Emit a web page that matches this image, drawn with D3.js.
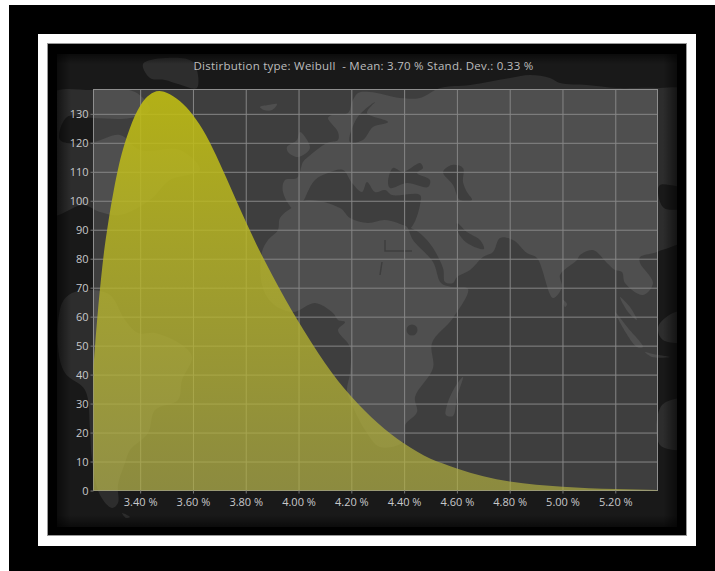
<!DOCTYPE html>
<html>
<head>
<meta charset="utf-8">
<script src="https://cdn.jsdelivr.net/npm/d3@7"></script>
<style>
  html, body { margin: 0; padding: 0; background: #fff; overflow: hidden; }
  svg { display: block; }
  text { font-family: "Open Sans", sans-serif; }
</style>
</head>
<body>
<svg id="chart" width="715" height="571"></svg>
<script>
// Weibull distribution chart on a dark world-map backdrop.

const titleText = 'Distirbution type: Weibull  - Mean: 3.70 % Stand. Dev.: 0.33 %';

const rates = [3.2232, 3.23, 3.24, 3.25, 3.26, 3.28, 3.30, 3.32, 3.34, 3.36, 3.38, 3.40, 3.42, 3.45, 3.473,
  3.50, 3.55, 3.60, 3.65, 3.70, 3.75, 3.80, 3.85, 3.90, 3.95, 4.00, 4.05, 4.10, 4.15, 4.20, 4.25, 4.30,
  4.35, 4.40, 4.45, 4.50, 4.55, 4.60, 4.70, 4.80, 4.90, 5.00, 5.10, 5.20, 5.36];
const density = [43, 51, 62, 71.5, 80, 93, 103.6, 112.5, 119.3, 124.8, 129.3, 132.8, 135.3, 137.4, 137.9,
  137.3, 134.4, 129.5, 122.5, 113.2, 103, 92.8, 83.2, 74.4, 66, 58.2, 50.9, 44, 37.8, 32.4, 27.6, 23.3,
  19.5, 16.2, 13.4, 11, 9.2, 7.6, 4.9, 3.1, 2, 1.3, 0.8, 0.5, 0.2];

const xTicks = [3.4, 3.6, 3.8, 4.0, 4.2, 4.4, 4.6, 4.8, 5.0, 5.2];
const yTicks = [0, 10, 20, 30, 40, 50, 60, 70, 80, 90, 100, 110, 120, 130];

// backdrop shapes, traced by hand in page pixels
const eurasia = [[283,192],[285,180],[297,178],[303,162],[308,157],[327,143],[338,140],[338,132],[328,118],[332,115],[348,113],[352,102],[358,93],[370,92],[400,98],[420,98],[440,88],[470,85],[510,78],[530,75],[550,78],[560,83],[587,85],[617,88],[657,88],[690,92],[690,184],[660,185],[658,192],[664,208],[690,212],[690,236],[657,252],[640,257],[640,263],[653,283],[643,295],[625,283],[622,272],[615,270],[607,263],[593,250],[580,255],[577,260],[560,275],[562,287],[553,298],[537,258],[527,253],[513,240],[500,238],[493,252],[483,257],[470,270],[457,277],[453,283],[445,282],[443,268],[427,240],[408,227],[300,215]];
const africa = [[407,227],[413,240],[433,262],[441,283],[452,287],[468,289],[453,318],[432,343],[433,368],[415,397],[417,412],[405,425],[403,442],[380,447],[365,430],[350,400],[347,390],[350,373],[350,347],[338,330],[345,322],[338,320],[333,313],[315,303],[293,312],[272,303],[262,285],[262,252],[268,240],[278,230],[280,218],[293,207],[308,200],[340,208],[350,218],[368,223],[385,220],[403,225]];
const northAmerica = [[50,95],[93,90],[135,92],[150,110],[130,118],[93,118],[67,117],[60,140],[93,142],[120,135],[140,150],[180,150],[200,170],[170,180],[150,200],[120,215],[100,212],[83,205],[50,215]];
const southAmerica = [[62,303],[72,293],[90,290],[110,295],[125,320],[138,333],[155,333],[182,345],[192,357],[182,380],[178,400],[155,410],[148,433],[130,450],[125,463],[118,485],[118,503],[112,508],[100,495],[92,460],[90,430],[85,390],[65,373],[58,347]];
const fireland = [[122,513],[130,517],[126,518]];
const greenland = [[143,64],[165,58],[193,62],[197,88],[178,84],[165,80],[150,78]];
const iceland = [[260,107],[268,105],[277,104],[272,110],[264,110]];
const britain = [[287,147],[297,140],[300,132],[310,148],[298,157],[288,152]];
const madagascar = [[463,377],[455,387],[447,405],[446,415],[453,416],[457,397]];
const sumatra = [[615,312],[628,328],[643,347],[637,347],[617,317]];
const malaya = [[620,297],[630,307],[637,320],[628,312]];
const java = [[645,352],[653,354],[670,357],[652,357]];
const borneo = [[658,327],[673,313],[690,312],[690,340],[663,340]];
const australia = [[662,405],[690,400],[690,447],[660,445]];
const sriLanka = [[563,300],[567,304],[565,307]];
const lands = [northAmerica, southAmerica, fireland, greenland, iceland, britain, madagascar, sumatra, malaya, java, borneo, australia, sriLanka];

const mediterranean = [[305,198],[315,180],[328,173],[343,170],[352,183],[362,192],[367,182],[375,192],[385,190],[392,195],[420,195],[420,205],[413,225],[405,232],[300,212]];
const blackSea = [[388,182],[393,168],[403,172],[420,163],[423,168],[417,173],[430,180],[428,187],[407,183],[390,188]];
const caspian = [[443,172],[452,165],[463,168],[463,182],[467,192],[472,200],[460,200],[453,185]];
const baltic = [[350,142],[357,118],[375,102],[367,113],[388,122],[373,127],[363,140]];
const persianGulf = [[457,223],[467,232],[480,240],[484,249],[467,243],[458,232]];
const seas = [mediterranean, blackSea, caspian, baltic, persianGulf];

const oceanColor = '#191919';
const landColor = '#2d2d2d';

const svg = d3.select('#chart');
const defs = svg.append('defs');

function addGradient(id, x2, y2, stops) {
  const g = defs.append('linearGradient').attr('id', id)
    .attr('x1', 0).attr('y1', 0).attr('x2', x2).attr('y2', y2);
  stops.forEach(s => g.append('stop').attr('offset', s[0]).attr('stop-color', s[1]).attr('stop-opacity', s[2]));
}

addGradient('fade-left', 1, 0, [[0, '#000', 0.55], [1, '#000', 0]]);
addGradient('fade-right', 1, 0, [[0, '#000', 0], [1, '#000', 0.55]]);
addGradient('fade-top', 0, 1, [[0, '#000', 0.55], [1, '#000', 0]]);
addGradient('fade-bottom', 0, 1, [[0, '#000', 0], [1, '#000', 0.55]]);
addGradient('yellow-fill', 0, 1, [[0, 'rgb(192,189,18)', 0.9], [1, 'rgb(177,175,64)', 0.68]]);

defs.append('clipPath').attr('id', 'panel-clip').append('rect')
  .attr('x', 57).attr('y', 54).attr('width', 620).attr('height', 473);

// picture frame
svg.append('rect').attr('x', 9).attr('y', 5).attr('width', 706).attr('height', 566).attr('fill', '#000');
svg.append('rect').attr('x', 38).attr('y', 34).attr('width', 658).attr('height', 512).attr('fill', '#fff');
svg.append('rect').attr('x', 47.5).attr('y', 43.5).attr('width', 639).attr('height', 492)
  .attr('fill', '#000').attr('stroke', '#999');

// map backdrop
const map = svg.append('g').attr('clip-path', 'url(#panel-clip)');
const shape = d3.line().curve(d3.curveCatmullRomClosed.alpha(0.5));

map.append('rect').attr('x', 57).attr('y', 54).attr('width', 620).attr('height', 473).attr('fill', oceanColor);
map.append('path').attr('d', shape(eurasia)).attr('fill', landColor);
seas.forEach(s => map.append('path').attr('d', shape(s)).attr('fill', oceanColor));
map.append('path').attr('d', shape(africa)).attr('fill', landColor);
lands.forEach(s => map.append('path').attr('d', shape(s)).attr('fill', landColor));
map.append('circle').attr('cx', 412).attr('cy', 330).attr('r', 5.5).attr('fill', oceanColor);
map.append('path').attr('d', 'M385,240V251H412M382,262L380,275').attr('fill', 'none')
  .attr('stroke', oceanColor).attr('stroke-width', 1.5);

// panel vignette
map.append('rect').attr('x', 57).attr('y', 54).attr('width', 14).attr('height', 473).attr('fill', 'url(#fade-left)');
map.append('rect').attr('x', 663).attr('y', 54).attr('width', 14).attr('height', 473).attr('fill', 'url(#fade-right)');
map.append('rect').attr('x', 57).attr('y', 54).attr('width', 620).attr('height', 10).attr('fill', 'url(#fade-top)');
map.append('rect').attr('x', 57).attr('y', 515).attr('width', 620).attr('height', 12).attr('fill', 'url(#fade-bottom)');

const plot = { left: 93.5, right: 657.5, top: 89.5, bottom: 490.5 };

const x = d3.scaleLinear().domain([3.2232, 5.36]).range([plot.left, plot.right]);
const y = d3.scaleLinear().domain([0, 138.4]).range([plot.bottom, plot.top]);

svg.append('rect').attr('x', plot.left).attr('y', plot.top)
  .attr('width', plot.right - plot.left).attr('height', plot.bottom - plot.top)
  .attr('fill', '#fff').attr('fill-opacity', 0.165);

// grid
const grid = svg.append('g').attr('class', 'grid');
grid.append('g').attr('transform', `translate(0,${plot.bottom})`)
  .call(d3.axisBottom(x).tickValues(xTicks).tickSize(-(plot.bottom - plot.top)).tickFormat(''));
grid.append('g').attr('transform', `translate(${plot.left},0)`)
  .call(d3.axisLeft(y).tickValues(yTicks.slice(1)).tickSize(-(plot.right - plot.left)).tickFormat(''));
grid.selectAll('.domain').remove();
grid.selectAll('line').attr('stroke', '#868686').attr('stroke-width', 1);

svg.append('rect').attr('x', plot.left).attr('y', plot.top)
  .attr('width', plot.right - plot.left).attr('height', plot.bottom - plot.top)
  .attr('fill', 'none').attr('stroke', '#8e8e8e');

// distribution
const area = d3.area()
  .x(d => x(d[0]))
  .y0(y(0))
  .y1(d => y(d[1]))
  .curve(d3.curveMonotoneX);

svg.append('path')
  .datum(d3.zip(rates, density))
  .attr('d', area)
  .attr('fill', 'url(#yellow-fill)');

// axes
const xAxis = svg.append('g').attr('transform', `translate(0,${plot.bottom})`)
  .call(d3.axisBottom(x).tickValues(xTicks).tickSize(3).tickPadding(5).tickFormat(d => d.toFixed(2) + ' %'));
const yAxis = svg.append('g').attr('transform', `translate(${plot.left},0)`)
  .call(d3.axisLeft(y).tickValues(yTicks).tickSize(3).tickPadding(2));

[xAxis, yAxis].forEach(a => {
  a.select('.domain').remove();
  a.selectAll('line').attr('stroke', '#777');
  a.selectAll('text').attr('fill', '#c8c8cb').style('font-size', '11px').style('font-family', '"Open Sans", sans-serif');
});

svg.append('text')
  .attr('x', 363.5)
  .attr('y', 69.5)
  .attr('text-anchor', 'middle')
  .attr('fill', '#bdbdbd')
  .style('font-size', '11.5px')
  .style('letter-spacing', '0.25px')
  .style('white-space', 'pre')
  .text(titleText);
</script>
</body>
</html>
